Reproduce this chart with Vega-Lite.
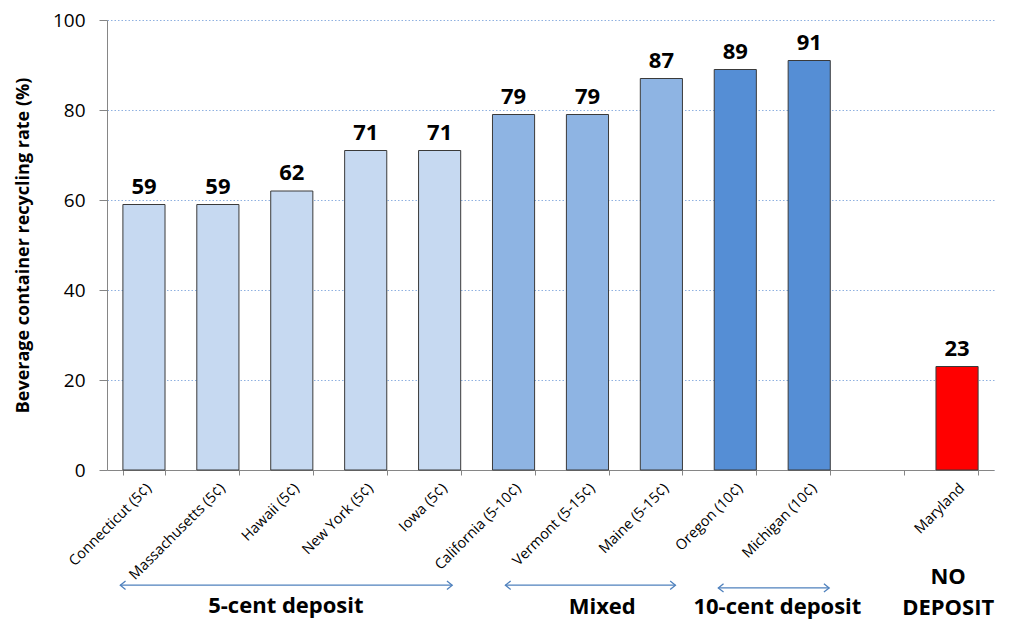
{
  "$schema": "https://vega.github.io/schema/vega-lite/v6.json",
  "autosize": {"type": "none"},
  "padding": {"left": 107, "top": 20, "right": 22, "bottom": 151},
  "width": 887,
  "height": 450,
  "background": "white",
  "config": {
    "view": {"stroke": null},
    "font": "Open Sans"
  },
  "datasets": {
    "states": [
      {"state": "Connecticut (5¢)", "rate": 59, "group": "5-cent"},
      {"state": "Massachusetts (5¢)", "rate": 59, "group": "5-cent"},
      {"state": "Hawaii (5¢)", "rate": 62, "group": "5-cent"},
      {"state": "New York (5¢)", "rate": 71, "group": "5-cent"},
      {"state": "Iowa (5¢)", "rate": 71, "group": "5-cent"},
      {"state": "California (5-10¢)", "rate": 79, "group": "Mixed"},
      {"state": "Vermont (5-15¢)", "rate": 79, "group": "Mixed"},
      {"state": "Maine (5-15¢)", "rate": 87, "group": "Mixed"},
      {"state": "Oregon (10¢)", "rate": 89, "group": "10-cent"},
      {"state": "Michigan (10¢)", "rate": 91, "group": "10-cent"},
      {"state": "Maryland", "rate": 23, "group": "None"}
    ],
    "arrows": [
      {"name": "5-cent deposit", "from": 0.18, "to": 4.67, "level": -25.6},
      {"name": "Mixed", "from": 5.39, "to": 7.69, "level": -25.6},
      {"name": "10-cent deposit", "from": 8.27, "to": 9.77, "level": -26.2}
    ],
    "notes": [
      {"text": "5-cent deposit", "pos": 2.42, "level": -30.2},
      {"text": "Mixed", "pos": 6.7, "level": -30.4},
      {"text": "10-cent deposit", "pos": 9.07, "level": -30.4},
      {"text": "NO", "pos": 11.38, "level": -23.8},
      {"text": "DEPOSIT", "pos": 11.38, "level": -30.6}
    ]
  },
  "layer": [
    {
      "data": {"name": "states"},
      "layer": [
        {
          "mark": {"type": "bar", "stroke": "#3a3a3a", "strokeWidth": 1},
          "encoding": {
            "x": {
              "field": "state", "type": "nominal", "sort": null,
              "scale": {
                "domain": ["Connecticut (5¢)", "Massachusetts (5¢)", "Hawaii (5¢)", "New York (5¢)", "Iowa (5¢)", "California (5-10¢)", "Vermont (5-15¢)", "Maine (5-15¢)", "Oregon (10¢)", "Michigan (10¢)", " ", "Maryland"],
                "paddingInner": 0.43, "paddingOuter": 0.215
              },
              "axis": {
                "title": null, "labelAngle": -45, "labelFontSize": 14.5, "labelColor": "#000000",
                "labelPadding": 6, "domainColor": "#868686", "tickColor": "#868686",
                "tickBand": "extent", "tickSize": 5, "labelFont": "Open Sans"
              }
            },
            "y": {
              "field": "rate", "type": "quantitative",
              "scale": {"domain": [0, 100], "nice": false},
              "axis": {
                "title": "Beverage container recycling rate  (%)", "titleFontSize": 18, "titleFontWeight": "bold",
                "titleColor": "#000000", "titlePadding": 20,
                "values": [0, 20, 40, 60, 80, 100], "labelFontSize": 19, "labelColor": "#000000",
                "labelPadding": 14,
                "domainColor": "#868686", "tickColor": "#868686", "tickSize": 8,
                "gridColor": "#8eb0e0", "gridDash": [1.5, 2], "gridWidth": 1
              }
            },
            "color": {
              "field": "group", "type": "nominal",
              "scale": {"domain": ["5-cent", "Mixed", "10-cent", "None"], "range": ["#c6d9f1", "#8eb4e3", "#558ed5", "#ff0000"]},
              "legend": null
            }
          }
        },
        {
          "mark": {"type": "text", "fontWeight": "bold", "fontSize": 22, "dy": -18, "color": "#000000"},
          "encoding": {
            "x": {"field": "state", "type": "nominal", "sort": null},
            "y": {"field": "rate", "type": "quantitative"},
            "text": {"field": "rate", "type": "quantitative"}
          }
        }
      ]
    },
    {
      "data": {"name": "arrows"},
      "layer": [
        {
          "mark": {"type": "rule", "color": "#4f81bd", "strokeWidth": 1.3},
          "encoding": {
            "x": {"field": "from", "type": "quantitative", "scale": {"domain": [0, 12], "nice": false}, "axis": null},
            "x2": {"field": "to"},
            "y": {"field": "level", "type": "quantitative"}
          }
        },
        {
          "mark": {"type": "point", "shape": "M1,-0.8L0,0L1,0.8", "filled": false, "stroke": "#4f81bd", "strokeWidth": 1.3, "size": 110, "opacity": 1},
          "encoding": {
            "x": {"field": "from", "type": "quantitative", "scale": {"domain": [0, 12], "nice": false}, "axis": null},
            "y": {"field": "level", "type": "quantitative"}
          }
        },
        {
          "mark": {"type": "point", "shape": "M-1,-0.8L0,0L-1,0.8", "filled": false, "stroke": "#4f81bd", "strokeWidth": 1.3, "size": 110, "opacity": 1},
          "encoding": {
            "x": {"field": "to", "type": "quantitative", "scale": {"domain": [0, 12], "nice": false}, "axis": null},
            "y": {"field": "level", "type": "quantitative"}
          }
        }
      ]
    },
    {
      "data": {"name": "notes"},
      "mark": {"type": "text", "fontWeight": "bold", "fontSize": 22, "color": "#000000", "baseline": "middle"},
      "encoding": {
        "x": {"field": "pos", "type": "quantitative", "scale": {"domain": [0, 12], "nice": false}, "axis": null},
        "y": {"field": "level", "type": "quantitative"},
        "text": {"field": "text", "type": "nominal"}
      }
    }
  ],
  "resolve": {"scale": {"x": "independent"}}
}
